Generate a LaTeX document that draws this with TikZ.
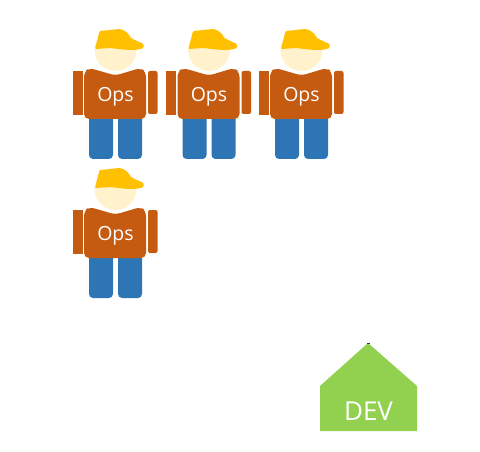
\documentclass[tikz,border=0pt]{standalone}
\usepackage{fontspec}
\setmainfont{Open Sans}
\usepackage{xcolor}
\definecolor{shirt}{HTML}{C55A11}
\definecolor{jeans}{HTML}{2E75B6}
\definecolor{skin}{HTML}{FFF2CC}
\definecolor{helmet}{HTML}{FFC000}
\definecolor{devgreen}{HTML}{92D050}
\tikzset{
	opsman/.pic = {
		\fill[jeans, rounded corners=4pt] (-26.5,50) rectangle (-2.5,109);
		\fill[jeans, rounded corners=4pt] (2.5,50) rectangle (26.5,109);
		\fill[skin] (0,0) circle (21);
		\fill[helmet, rounded corners=1pt] (-20.5,-1) -- (-16,-19) -- (-5,-20) -- (4,-21) .. controls (12,-19) and (14,-14) .. (15,-12) -- (28,-6) -- (28,-2) .. controls (20,1) and (10,0) .. (-5,-2) -- cycle;
		\fill[shirt] (-43,21) rectangle (-33,65);
		\fill[shirt, rounded corners=2pt] (32.5,21) -- (42,21) -- (42,64) -- (32.5,64) -- cycle;
		\fill[shirt, rounded corners=5pt] (-31.5,22) -- (-26,18) -- (0,25.5) -- (25,18) -- (30.5,22) -- (30.5,69) -- (-31.5,69) -- cycle;
		\node[text=white, font=\fontsize{19.5}{19.5}\selectfont] (-label) at (0,47) {Ops};
	}
}
\begin{document}
\begin{tikzpicture}[x=1pt, y=-1pt]
	\useasboundingbox (0,0) rectangle (480,452);
	% crew
	\pic (ops1) at (115.5,50) {opsman};
	\pic (ops2) at (209,50) {opsman};
	\pic (ops3) at (301.5,50) {opsman};
	\pic (ops4) at (115.5,189) {opsman};
	% house
	\fill[devgreen] (368,343) -- (417,386) -- (417,431) -- (320,431) -- (320,386) -- cycle;
	\fill[black!80] (366.5,343) rectangle (369.5,344);
	\node[text=white, font=\fontsize{26}{26}\selectfont] (dev) at (368.5,411) {DEV};
\end{tikzpicture}
\end{document}
